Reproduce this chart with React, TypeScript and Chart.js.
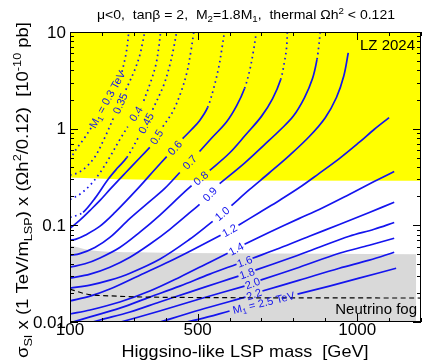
import React, { useEffect, useRef } from "react";
import { Chart, registerables } from "chart.js";
Chart.register(...registerables);

// ---------------- data ----------------
const X_MIN = 100;
const X_MAX = 1200;
const Y_MIN = 0.01;
const Y_MAX = 10;
const xTickLabels = [100, 500, 1000];
const xMinorStep = 100;
const yTickLabels = [0.01, 0.1, 1, 10];

// LZ 2024 exclusion (yellow, above the line)
const lzLimit = [[100, 0.313], [250, 0.3], [530, 0.291], [1200, 0.29]];
// neutrino-fog band (grey, below the line)
const fogBand = [[100, 0.0622], [147, 0.0566], [194, 0.054], [297, 0.0527], [600, 0.0514], [1185, 0.0502]];
// neutrino fog dashed line
const neutrinoFog = [[100, 0.0219], [150, 0.0195], [250, 0.0185], [400, 0.018], [1200, 0.0177]];

// contours for fixed M1 (TeV): [LSP mass GeV, scaled sigma]; null = label gap
const m1_030 = [[100, 0.48], [119, 0.61], [144, 0.79], [169, 1.05], null, [263, 3.87], [275, 5.8], [281, 7.9], [284, 10]];
const m1_035 = [[100, 0.33], [125, 0.35], [150, 0.4], [178, 0.51], [206, 0.77], [238, 1.33], null, [275, 2.52], [303, 4.06], [319, 5.8], [328, 7.9], [334, 10]];
const m1_040 = [[100, 0.185], [131, 0.21], [163, 0.26], [194, 0.35], [225, 0.51], [256, 0.77], [281, 1.05], null, [331, 1.94], [353, 3.05], [369, 4.57], [378, 6.84], [384, 10]];
const m1_045 = [[100, 0.121], [122, 0.127], [141, 0.136], [178, 0.19], [219, 0.298], [250, 0.396], [278, 0.502], [316, 0.83], null, [359, 1.57], [394, 2.84], [413, 4.57], [425, 6.84], [434, 10]];
const m1_050 = [[100, 0.093], [131, 0.113], [163, 0.143], [194, 0.181], [228, 0.241], [272, 0.344], [319, 0.5], [350, 0.64], null, [391, 1.05], [422, 1.5], [447, 2.35], [466, 3.78], [478, 6.07], [488, 10]];
const m1_060 = [[100, 0.07], [119, 0.072], [147, 0.079], [194, 0.098], [241, 0.136], [313, 0.241], [366, 0.378], [403, 0.514], null, [453, 0.79], [481, 0.98], [506, 1.21], [531, 1.65], [550, 2.6], [566, 4.3], [575, 6.4], [584, 10]];
const m1_070 = [[100, 0.049], [131, 0.051], [178, 0.059], [225, 0.075], [288, 0.118], [350, 0.177], [397, 0.241], [444, 0.352], null, [506, 0.58], [544, 0.8], [591, 1.18], [622, 1.72], [647, 2.6], [663, 4.0], [675, 6.4], [684, 10]];
const m1_080 = [[100, 0.037], [147, 0.04], [194, 0.046], [256, 0.059], [319, 0.085], [381, 0.127], [444, 0.199], [481, 0.258], null, [538, 0.37], [600, 0.56], [650, 0.86], [700, 1.34], [735, 2.05], [760, 3.2], [772, 4.9], [779, 7.0], [781, 10]];
const m1_090 = [[100, 0.0284], [163, 0.0313], [225, 0.0369], [288, 0.0468], [350, 0.0637], [413, 0.091], [506, 0.165], null, [569, 0.27], [647, 0.44], [709, 0.68], [760, 0.98], [800, 1.35], [835, 2.1], [860, 3.3], [874, 5.2], [880, 7.3], [884, 10]];
const m1_100 = [[100, 0.0224], [163, 0.0241], [225, 0.0271], [288, 0.032], [381, 0.0446], [475, 0.0717], [547, 0.11], null, [606, 0.16], [663, 0.235], [725, 0.35], [788, 0.53], [850, 0.83], [900, 1.3], [935, 2.1], [958, 3.5], [972, 6.07]];
const m1_120 = [[100, 0.0165], [163, 0.0185], [225, 0.0219], [319, 0.0305], [413, 0.0425], [506, 0.0607], [572, 0.0788], null, [628, 0.1], [694, 0.136], [756, 0.181], [819, 0.246], [881, 0.345], [944, 0.49], [1006, 0.72], [1053, 0.98], [1100, 1.3]];
const m1_140 = [[100, 0.0121], [163, 0.0133], [256, 0.0161], [350, 0.0209], [444, 0.0291], [538, 0.0416], [594, 0.0514], null, [647, 0.0637], [725, 0.0847], [819, 0.118], [881, 0.146], [975, 0.209], [1053, 0.284], [1116, 0.36]];
const m1_160 = [[100, 0.0098], [163, 0.0113], [256, 0.0139], [350, 0.0181], [444, 0.0235], [538, 0.0313], [622, 0.0396], null, [672, 0.0457], [756, 0.0579], [850, 0.077], [944, 0.102], [1038, 0.136], [1116, 0.173]];
const m1_180 = [[163, 0.0098], [194, 0.0105], [288, 0.0127], [381, 0.0161], [475, 0.0204], [569, 0.0258], [628, 0.0298], null, [681, 0.0344], [788, 0.0457], [881, 0.0593], [975, 0.077], [1053, 0.091], [1116, 0.107]];
const m1_200 = [[250, 0.0098], [381, 0.013], [506, 0.0173], [647, 0.0235], null, [697, 0.0271], [819, 0.0369], [944, 0.0514], [1038, 0.0622], [1116, 0.0735]];
const m1_220 = [[375, 0.0098], [506, 0.0133], [650, 0.0181], null, [703, 0.0209], [819, 0.0271], [944, 0.036], [1038, 0.0436], [1116, 0.0527]];
const m1_250 = [[453, 0.0098], [506, 0.0107], [600, 0.013], null, [813, 0.0194], [913, 0.0235], [1006, 0.0284], [1122, 0.036]];

const m1Values = ["0.3", "0.35", "0.4", "0.45", "0.5", "0.6", "0.7", "0.8", "0.9", "1.0", "1.2", "1.4", "1.6", "1.8", "2.0", "2.2", "2.5"];
const m1Curves = [m1_030, m1_035, m1_040, m1_045, m1_050, m1_060, m1_070, m1_080, m1_090, m1_100, m1_120, m1_140, m1_160, m1_180, m1_200, m1_220, m1_250];
// mass range (GeV) where each contour is drawn solid; elsewhere dotted
const solidRanges: (number[] | null)[] = [null, null, null, [141, 278], [100, 350], [100, 531], [100, 647], [100, 760], [100, 872], [0, 2000], [0, 2000], [0, 2000], [0, 2000], [0, 2000], [0, 2000], [0, 2000], [0, 2000]];

// ---------------- drawing helpers ----------------
const FAM = "'Liberation Sans', Arial, Helvetica, sans-serif";
const BLUE = "rgb(20,20,238)";
type Seg = { t: string; k?: "sub" | "sup" };

function richWidth(ctx: CanvasRenderingContext2D, segs: Seg[], size: number) {
  let w = 0;
  segs.forEach((s) => {
    ctx.font = `${s.k ? Math.round(size * 0.7) : size}px ${FAM}`;
    w += ctx.measureText(s.t).width;
  });
  return w;
}

function drawRich(ctx: CanvasRenderingContext2D, segs: Seg[], x: number, y: number, size: number, align: string, color: string, fitWidth?: number) {
  ctx.save();
  ctx.fillStyle = color;
  ctx.textAlign = "left";
  ctx.textBaseline = "alphabetic";
  const fs = (s: Seg) => (s.k ? Math.round(size * 0.7) : size);
  const total = richWidth(ctx, segs, size);
  const sx = fitWidth ? fitWidth / total : 1;
  const w = total * sx;
  const x0 = align === "center" ? x - w / 2 : align === "right" ? x - w : x;
  ctx.translate(x0, y);
  ctx.scale(sx, 1);
  let cx = 0;
  segs.forEach((s) => {
    ctx.font = `${fs(s)}px ${FAM}`;
    const dy = s.k === "sub" ? size * 0.22 : s.k === "sup" ? -size * 0.42 : 0;
    ctx.fillText(s.t, cx, dy);
    cx += ctx.measureText(s.t).width;
  });
  ctx.restore();
}

const toXY = (arr: any[]) =>
  arr.map((p, i) => {
    if (p === null) {
      const a = arr[i - 1], b = arr[i + 1];
      return { x: (a[0] + b[0]) / 2, y: null };
    }
    return { x: p[0], y: p[1] };
  });

function labelSegs(i: number): Seg[] {
  const v = m1Values[i];
  if (i === 0 || i === m1Values.length - 1) return [{ t: "M" }, { t: "1", k: "sub" }, { t: ` = ${v} TeV` }];
  return [{ t: v }];
}

const decor = {
  id: "decor",
  afterDatasetsDraw(chart: any) {
    const ctx: CanvasRenderingContext2D = chart.ctx;
    chart.data.datasets.forEach((ds: any, di: number) => {
      if (ds.contourIndex === undefined) return;
      const meta = chart.getDatasetMeta(di);
      const gi = ds.data.findIndex((p: any) => p.y === null);
      if (gi < 1) return;
      const a = meta.data[gi - 1], b = meta.data[gi + 1];
      const cx = (a.x + b.x) / 2, cy = (a.y + b.y) / 2;
      const ang = Math.atan2(b.y - a.y, b.x - a.x);
      ctx.save();
      ctx.translate(cx, cy);
      ctx.rotate(ang);
      drawRich(ctx, labelSegs(ds.contourIndex), 0, 4, 11, "center", BLUE);
      ctx.restore();
    });
  },
  afterDraw(chart: any) {
    const ctx: CanvasRenderingContext2D = chart.ctx;
    const { left, right, top, bottom } = chart.chartArea;
    const xs = chart.scales.x, ys = chart.scales.y;
    ctx.save();
    ctx.strokeStyle = "#000";
    ctx.lineWidth = 1;
    ctx.strokeRect(Math.round(left) + 0.5, Math.round(top) + 0.5, Math.round(right - left) - 1, Math.round(bottom - top) - 1);
    ctx.beginPath();
    for (let m = X_MIN; m <= X_MAX; m += xMinorStep) {
      const px = Math.round(xs.getPixelForValue(m)) + 0.5;
      const len = xTickLabels.includes(m) ? 8 : 4;
      ctx.moveTo(px, bottom); ctx.lineTo(px, bottom - len);
      ctx.moveTo(px, top); ctx.lineTo(px, top + len);
    }
    for (let d = Y_MIN; d < Y_MAX * 1.01; d *= 10) {
      for (let k = 1; k <= 9; k++) {
        const v = d * k;
        if (v > Y_MAX * 1.001) break;
        const py = Math.round(ys.getPixelForValue(v)) + 0.5;
        const len = k === 1 ? 8 : 4;
        ctx.moveTo(left, py); ctx.lineTo(left + len, py);
        ctx.moveTo(right, py); ctx.lineTo(right - len, py);
      }
    }
    ctx.stroke();

    // tick labels
    ctx.fillStyle = "#000";
    ctx.font = `17px ${FAM}`;
    ctx.textAlign = "center";
    ctx.textBaseline = "alphabetic";
    xTickLabels.forEach((m) => ctx.fillText(String(m), xs.getPixelForValue(m), 335));
    ctx.textAlign = "right";
    ctx.textBaseline = "middle";
    yTickLabels.forEach((v) => ctx.fillText(String(v), 66, ys.getPixelForValue(v) + 1));

    // title
    drawRich(ctx, [{ t: "μ<0,  tanβ = 2,  M" }, { t: "2", k: "sub" }, { t: "=1.8M" }, { t: "1", k: "sub" }, { t: ",  thermal Ωh" }, { t: "2", k: "sup" }, { t: " < 0.121" }], 246, 19, 13, "center", "#000", 298);
    // x title
    drawRich(ctx, [{ t: "Higgsino-like LSP mass  [GeV]" }], 245, 357, 17, "center", "#000", 247);
    // y title
    ctx.save();
    ctx.translate(28, 190);
    ctx.rotate(-Math.PI / 2);
    drawRich(ctx, [{ t: "σ" }, { t: "SI", k: "sub" }, { t: " x (1 TeV/m" }, { t: "LSP", k: "sub" }, { t: ") x (Ωh" }, { t: "2", k: "sup" }, { t: "/0.12)  [10" }, { t: "-10", k: "sup" }, { t: " pb]" }], 0, 0, 16, "center", "#000", 336);
    ctx.restore();
    // in-plot texts
    drawRich(ctx, [{ t: "LZ 2024" }], 415, 50, 15, "right", "#000");
    drawRich(ctx, [{ t: "Neutrino fog" }], 417, 314, 15, "right", "#000");
    ctx.restore();
  },
};

export default function App() {
  const ref = useRef<HTMLCanvasElement>(null);
  useEffect(() => {
    const datasets: any[] = [];
    m1Curves.forEach((c, i) => {
      const r = solidRanges[i];
      datasets.push({
        data: toXY(c),
        contourIndex: i,
        borderColor: BLUE,
        borderWidth: 1.7,
        pointRadius: 0,
        fill: false,
        tension: 0.35,
        spanGaps: false,
        order: 2,
        segment: {
          borderDash: (ctx: any) => {
            const mid = (ctx.p0.parsed.x + ctx.p1.parsed.x) / 2;
            return r && mid >= r[0] && mid <= r[1] ? [] : [1.6, 3.6];
          },
        },
      });
    });
    datasets.push({
      data: toXY(neutrinoFog),
      borderColor: "#000",
      borderWidth: 1.2,
      borderDash: [5, 3.5],
      pointRadius: 0,
      fill: false,
      cubicInterpolationMode: "monotone",
      order: 1,
    });
    datasets.push({
      data: toXY(fogBand),
      borderWidth: 0,
      borderColor: "rgba(0,0,0,0)",
      backgroundColor: "#d9d9d9",
      pointRadius: 0,
      fill: "start",
      cubicInterpolationMode: "monotone",
      order: 19,
    });
    datasets.push({
      data: toXY(lzLimit),
      borderWidth: 0,
      borderColor: "rgba(0,0,0,0)",
      backgroundColor: "#ffff00",
      pointRadius: 0,
      fill: "end",
      order: 20,
    });

    const chart = new Chart(ref.current as HTMLCanvasElement, {
      type: "line",
      data: { datasets },
      options: {
        responsive: false,
        animation: false,
        devicePixelRatio: 1,
        layout: { padding: { left: 70, right: 3, top: 32, bottom: 39 } },
        plugins: { legend: { display: false }, tooltip: { enabled: false }, title: { display: false } },
        scales: {
          x: { type: "linear", min: X_MIN, max: X_MAX, display: false },
          y: { type: "logarithmic", min: Y_MIN, max: Y_MAX, display: false },
        },
      } as any,
      plugins: [decor as any],
    });
    return () => chart.destroy();
  }, []);
  return (
    <div style={{ position: "fixed", left: 0, top: 0, width: 424, height: 361, background: "#fff" }}>
      <canvas ref={ref} width={424} height={361} style={{ display: "block" }} />
    </div>
  );
}
